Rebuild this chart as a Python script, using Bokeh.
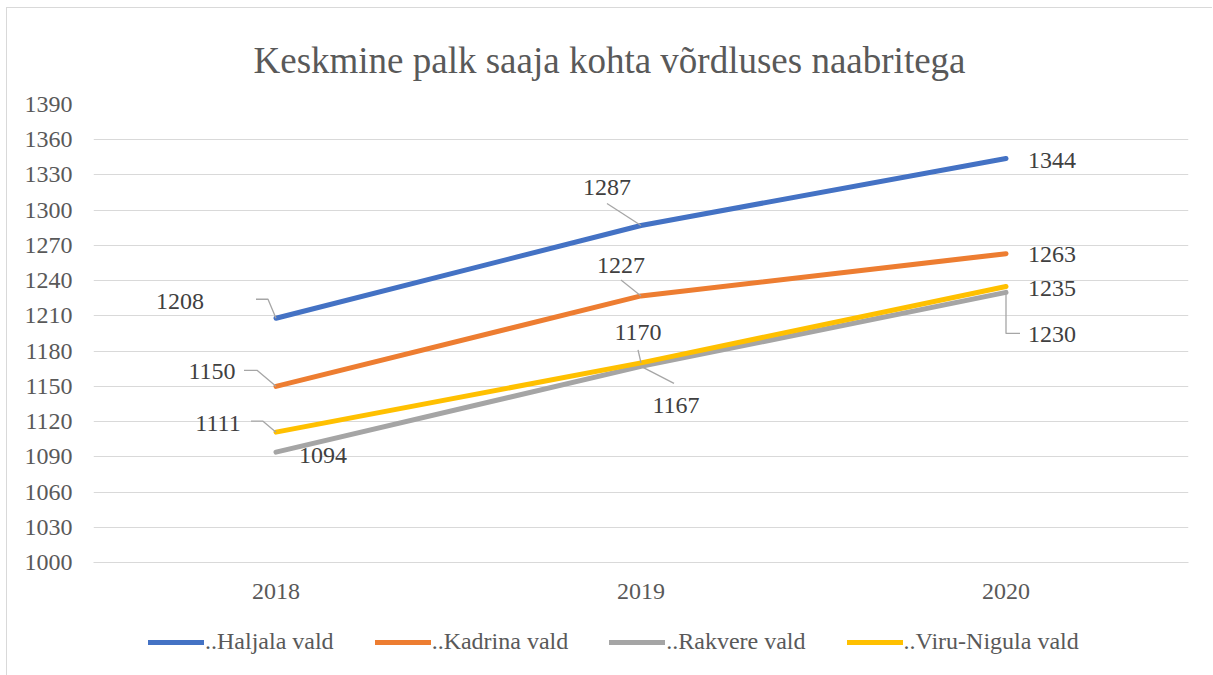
from bokeh.plotting import figure
from bokeh.layouts import column
from bokeh.models import (FactorRange, Range1d, FixedTicker, Legend,
                          LegendItem, ColumnDataSource)
from bokeh.core.properties import value
from bokeh.embed import file_html
from bokeh.resources import INLINE

# ---- data ----
years = ["2018", "2019", "2020"]
series_names = ["..Haljala vald", "..Kadrina vald", "..Rakvere vald", "..Viru-Nigula vald"]
haljala = [1208, 1287, 1344]
kadrina = [1150, 1227, 1263]
rakvere = [1094, 1167, 1230]
viru_nigula = [1111, 1170, 1235]
y_ticks = [1000, 1030, 1060, 1090, 1120, 1150, 1180, 1210, 1240, 1270, 1300, 1330, 1360, 1390]
title_text = "Keskmine palk saaja kohta võrdluses naabritega"

# ---- styles ----
colors = ["#4472C4", "#ED7D31", "#A5A5A5", "#FFC000"]
FONT = "Liberation Serif"
GRID = "#d9d9d9"
TXT = "#595959"
LBL = "#404040"

# label offsets in screen px (dx right, dy down) per series per year
label_offsets = [
    [(-96, -17), (-34, -38), (46, 2)],
    [(-64, -15), (-20, -30), (46, 1)],
    [(47, 3), (35, 39), (46, 42)],
    [(-58, -9), (-3, -30), (46, 2)],
]
# leader line paths in screen px offsets from point (None = no leader)
leaders = [
    [[(-20, -19), (-8, -19), (0, 0)], [(-34, -22), (0, 0)], None],
    [[(-32, -16), (-19, -16), (0, 0)], [(-20, -16), (0, 0)], None],
    [None, [(0, 0), (33, 17)], [(0, 0), (0, 41), (14, 41)]],
    [[(-25, -11), (-13, -11), (0, 0)], [(-3, -13), (0, 0)], None],
]

Y0, Y1 = y_ticks[0], y_ticks[-1]
FRAME_W, FRAME_H = 1095, 458
px_x = 3.0 / FRAME_W          # category units per px
px_y = (Y1 - Y0) / FRAME_H    # data units per px

p = figure(width=1205, height=620, x_range=FactorRange(*years, range_padding=0),
           y_range=Range1d(Y0, Y1), output_backend="svg", toolbar_location=None,
           min_border_left=86, min_border_right=24, min_border_top=96, min_border_bottom=66)
p.outline_line_color = None
p.background_fill_color = "white"
p.border_fill_color = "white"

p.title.text = title_text
p.title.align = "left"
p.title.text_font = FONT
p.title.text_font_size = "37px"
p.title.text_font_style = "normal"
p.title.text_color = TXT
p.title.standoff = 48
p.title.offset = 160

p.yaxis.ticker = FixedTicker(ticks=y_ticks)
p.ygrid.grid_line_color = GRID
p.ygrid.grid_line_width = 1
p.xgrid.grid_line_color = None
for ax in (p.xaxis, p.yaxis):
    ax.major_tick_line_color = None
    ax.minor_tick_line_color = None
    ax.major_tick_out = 0
    ax.major_tick_in = 0
    ax.major_label_text_font = FONT
    ax.major_label_text_font_size = "24px"
    ax.major_label_text_color = TXT
    ax.major_label_standoff = 21
p.yaxis.axis_line_color = None
p.xaxis.axis_line_color = GRID

all_series = [haljala, kadrina, rakvere, viru_nigula]
for vals, col in zip(all_series, colors):
    p.line(years, vals, line_color=col, line_width=5, line_cap="round", line_join="round")

# leader lines
lx, ly = [], []
for si, vals in enumerate(all_series):
    for yi, v in enumerate(vals):
        path = leaders[si][yi]
        if path is None:
            continue
        lx.append([yi + 0.5 + dx * px_x for dx, dy in path])
        ly.append([v - dy * px_y for dx, dy in path])
p.multi_line(lx, ly, line_color="#a6a6a6", line_width=1.3)

# data labels
tx, ty, tt, ox, oy = [], [], [], [], []
for si, vals in enumerate(all_series):
    for yi, v in enumerate(vals):
        tx.append(years[yi]); ty.append(v); tt.append(str(v))
        ox.append(label_offsets[si][yi][0]); oy.append(label_offsets[si][yi][1])
src = ColumnDataSource(dict(x=tx, y=ty, t=tt, ox=ox, oy=oy))
p.text(x="x", y="y", text="t", x_offset="ox", y_offset="oy", source=src,
       text_font=value(FONT), text_font_size="24px", text_color=LBL,
       text_align="center", text_baseline="middle")

# legend strip (separate figure below the chart; series lie outside its view)
pl = figure(width=1205, height=47, x_range=FactorRange(*years, range_padding=0),
            y_range=Range1d(0, 1), output_backend="svg", toolbar_location=None,
            x_axis_type=None, y_axis_type=None, min_border=0)
pl.outline_line_color = None
pl.grid.visible = False
items = []
for name, vals, col in zip(series_names, all_series, colors):
    r = pl.line(years, vals, line_color=col, line_width=5, line_cap="round")
    items.append(LegendItem(label=name, renderers=[r]))
legend = Legend(items=items, location=(55, 20), orientation="horizontal", glyph_width=56,
                glyph_height=20, label_standoff=1, spacing=41, padding=0, margin=0,
                border_line_color=None, background_fill_alpha=0, label_text_font=FONT,
                label_text_font_size="24px", label_text_color=TXT, label_height=20)
pl.add_layout(legend)

layout = column(p, pl, spacing=0,
                styles={"border-top": "1px solid #d9d9d9", "border-left": "1px solid #d9d9d9",
                        "margin-left": "6px", "margin-top": "7px"})

open("out.html", "w").write(file_html(layout, INLINE))
